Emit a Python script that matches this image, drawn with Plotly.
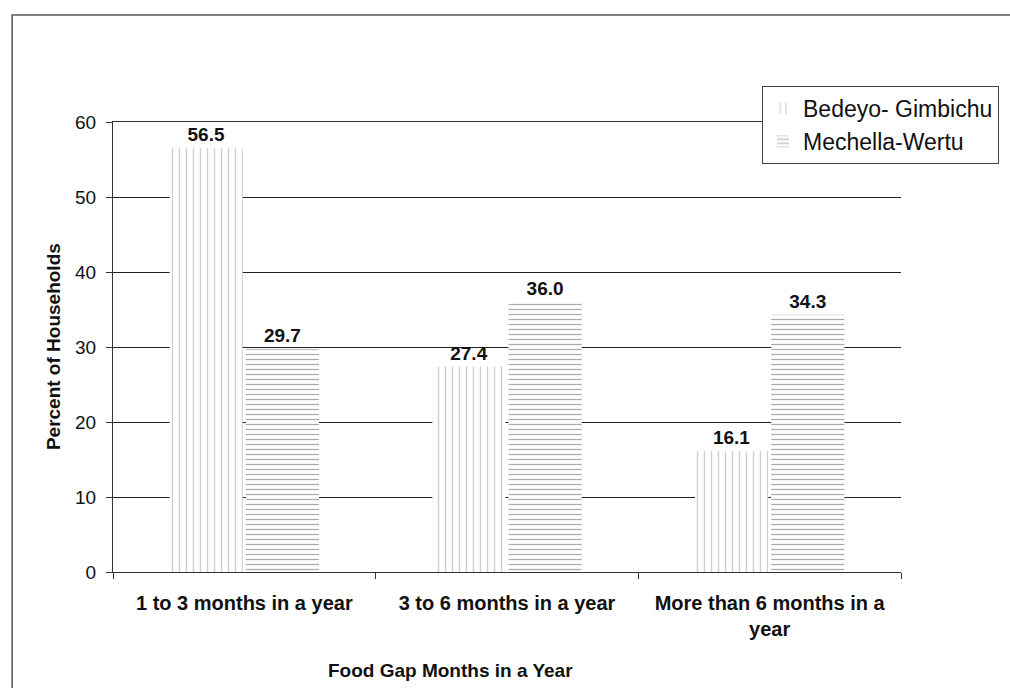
import plotly.graph_objects as go

categories = ["1 to 3 months in a year", "3 to 6 months in a year", "More than 6 months in a<br>year"]
series_names = ["Bedeyo- Gimbichu", "Mechella-Wertu"]
bedeyo = [56.5, 27.4, 16.1]
mechella = [29.7, 36.0, 34.3]
y_ticks = [0, 10, 20, 30, 40, 50, 60]

FONT = "Liberation Sans, Arial, sans-serif"

fig = go.Figure()
fig.add_trace(go.Bar(
    name=series_names[0], x=categories, y=bedeyo,
    marker=dict(color="white", line=dict(width=0),
                pattern=dict(shape="|", fgcolor="#a0a0a0", bgcolor="white", size=7, solidity=0.2)),
    texttemplate="<b>%{y:.1f}</b>", textposition="outside", cliponaxis=False,
    textfont=dict(size=19, color="#111", family=FONT),
))
fig.add_trace(go.Bar(
    name=series_names[1], x=categories, y=mechella,
    marker=dict(color="white", line=dict(width=0),
                pattern=dict(shape="-", fgcolor="#555555", bgcolor="white", size=5, solidity=0.25)),
    texttemplate="<b>%{y:.1f}</b>", textposition="outside", cliponaxis=False,
    textfont=dict(size=19, color="#111", family=FONT),
))

fig.update_layout(
    width=1010, height=688,
    margin=dict(l=113, r=108, t=122, b=116),
    paper_bgcolor="white", plot_bgcolor="white",
    font=dict(family=FONT, color="#111", size=19),
    barmode="group", bargap=0.42, bargroupgap=0.04,
    showlegend=True,
    legend=dict(x=0.8226, y=1.08, xanchor="left", yanchor="top",
                bgcolor="white", bordercolor="#444", borderwidth=1,
                font=dict(size=23, family=FONT, color="#111"),
                itemwidth=30),
    xaxis=dict(type="category", showline=True, mirror=True, linecolor="#333", linewidth=1,
               ticks="outside", tickson="boundaries", ticklen=6, tickcolor="#333",
               tickfont=dict(size=20, family=FONT, color="#111", weight="bold"),
               ticklabelstandoff=13, tickangle=0,
               showgrid=False),
    yaxis=dict(range=[0, 60], tickvals=y_ticks, showline=True, linecolor="#333", linewidth=1,
               ticks="outside", ticklen=6, tickcolor="#333",
               showgrid=True, gridcolor="#222", gridwidth=1,
               ticklabelstandoff=6,
               tickfont=dict(size=19, family=FONT, color="#111"), zeroline=False),
    annotations=[
        dict(text="<b>Percent of Households</b>", xref="paper", yref="paper",
             x=-0.076, y=0.5, xanchor="center", yanchor="middle", textangle=-90, showarrow=False,
             font=dict(size=19, family=FONT, color="#111")),
        dict(text="<b>Food Gap Months in a Year</b>", xref="paper", yref="paper",
             x=0.428, y=-0.218, xanchor="center", yanchor="middle", showarrow=False,
             font=dict(size=19, family=FONT, color="#111")),
    ],
    shapes=[dict(type="rect", xref="paper", yref="paper",
                 x0=-0.128, y0=-0.27, x1=1.16, y1=1.2378,
                 line=dict(color="#555", width=1.5), layer="below")],
)

fig.write_html("out.html")
